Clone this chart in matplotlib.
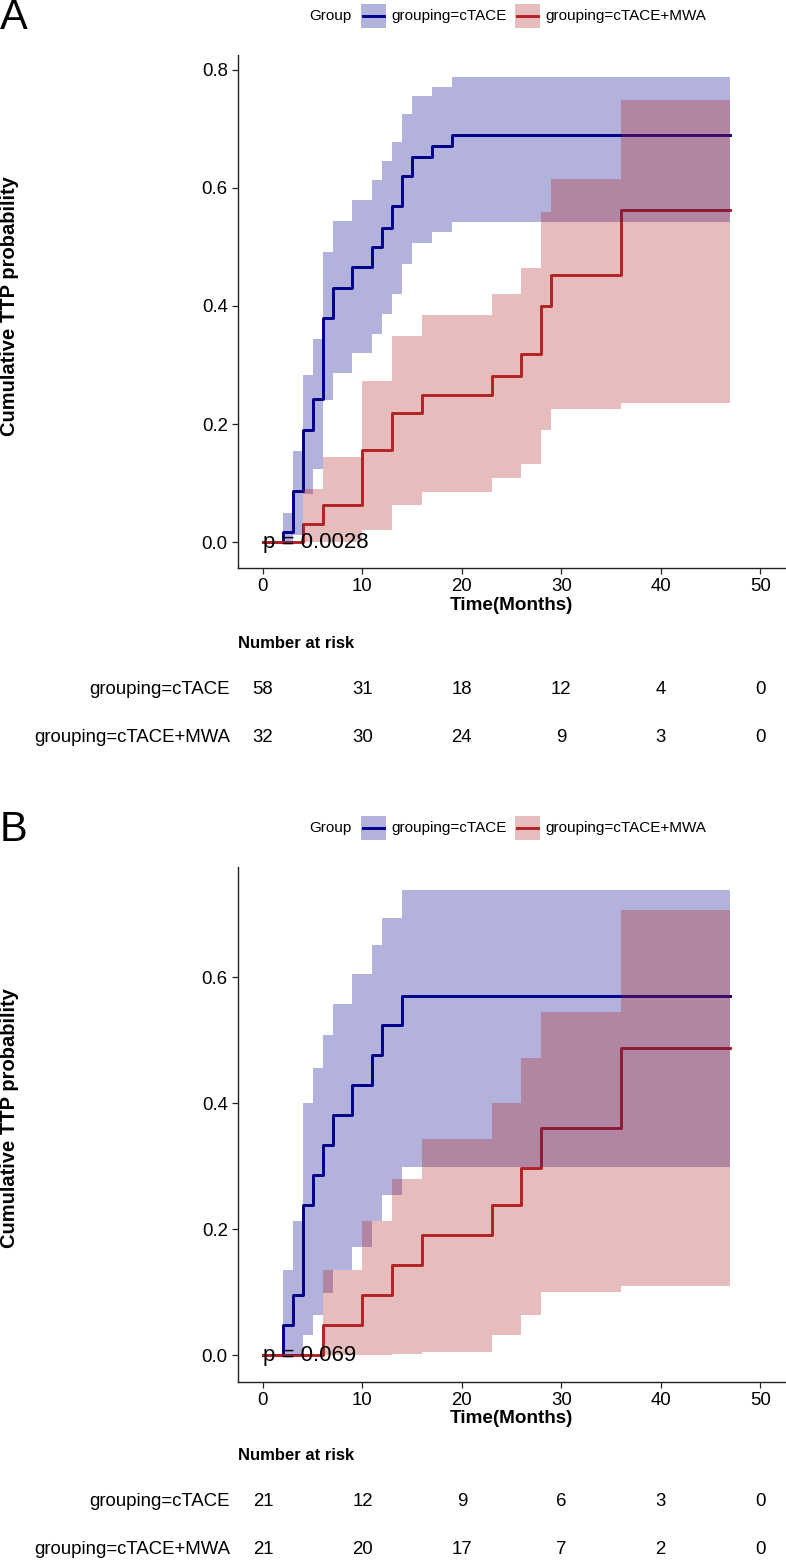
import numpy as np
import matplotlib
matplotlib.use("Agg")
import matplotlib.pyplot as plt
import matplotlib.transforms as mtransforms
from matplotlib.patches import Rectangle
from matplotlib.lines import Line2D

plt.rcParams['font.family'] = ['Liberation Sans', 'DejaVu Sans']

# ---- Panel A data ----
a_ctace_t = [0, 2, 3, 4, 5, 6, 7, 9, 11, 12, 13, 14, 15, 17, 19, 47]
a_ctace_est = [0, 0.017, 0.086, 0.19, 0.242, 0.379, 0.43, 0.466, 0.50, 0.533, 0.569, 0.62, 0.653, 0.671, 0.689, 0.689]
a_ctace_hi = [0, 0.05, 0.154, 0.283, 0.344, 0.492, 0.544, 0.58, 0.613, 0.646, 0.678, 0.725, 0.756, 0.772, 0.788, 0.788]
a_ctace_lo = [0, 0.0, 0.012, 0.081, 0.123, 0.24, 0.287, 0.32, 0.3525, 0.386, 0.42, 0.472, 0.507, 0.526, 0.543, 0.543]

a_mwa_t = [0, 4, 6, 10, 13, 16, 23, 26, 28, 29, 36, 47]
a_mwa_est = [0, 0.031, 0.0625, 0.156, 0.219, 0.25, 0.281, 0.319, 0.40, 0.4525, 0.5627, 0.5627]
a_mwa_hi = [0, 0.089, 0.1435, 0.273, 0.349, 0.385, 0.42, 0.464, 0.56, 0.615, 0.749, 0.749]
a_mwa_lo = [0, 0, 0, 0.02, 0.063, 0.085, 0.108, 0.133, 0.19, 0.225, 0.236, 0.236]

a_risk_ctace = [58, 31, 18, 12, 4, 0]
a_risk_mwa = [32, 30, 24, 9, 3, 0]
a_pval = "p = 0.0028"

# ---- Panel B data ----
b_ctace_t = [0, 2, 3, 4, 5, 6, 7, 9, 11, 12, 14, 47]
b_ctace_est = [0, 0.0476, 0.095, 0.238, 0.286, 0.333, 0.381, 0.429, 0.476, 0.524, 0.571, 0.571]
b_ctace_hi = [0, 0.135, 0.213, 0.40, 0.456, 0.508, 0.558, 0.605, 0.651, 0.695, 0.739, 0.739]
b_ctace_lo = [0, 0, 0, 0.032, 0.0635, 0.099, 0.135, 0.172, 0.213, 0.254, 0.298, 0.298]

b_mwa_t = [0, 6, 10, 13, 16, 23, 26, 28, 36, 47]
b_mwa_est = [0, 0.0476, 0.095, 0.143, 0.19, 0.238, 0.2966, 0.36, 0.488, 0.488]
b_mwa_hi = [0, 0.135, 0.213, 0.279, 0.3425, 0.40, 0.472, 0.545, 0.707, 0.707]
b_mwa_lo = [0, 0, 0, 0.002, 0.005, 0.032, 0.0635, 0.10, 0.109, 0.109]

b_risk_ctace = [21, 12, 9, 6, 3, 0]
b_risk_mwa = [21, 20, 17, 7, 2, 0]
b_pval = "p = 0.069"

risk_times = [0, 10, 20, 30, 40, 50]
groups = ["grouping=cTACE", "grouping=cTACE+MWA"]
colors = ["#00008B", "#B22222"]

W, H = 786, 1568
fig = plt.figure(figsize=(W / 100, H / 100), dpi=100)


def fx(px):
    return px / W


def fy(py):
    return 1 - py / H


def panel(top, bottom, ylim, yticks, curves, risks, pval, letter, dy):
    ax = fig.add_axes([fx(237.5), fy(bottom), fx(785) - fx(237.5), (bottom - top) / H])
    # lines first, ribbons drawn on top (as in the original)
    for (t, est, lo, hi), c in zip(curves, colors):
        ax.step(t, est, where='post', color=c, lw=2.1, zorder=2)
    for (t, est, lo, hi), c in zip(curves, colors):
        ax.fill_between(t, lo, hi, step='post', color=c, alpha=0.3, lw=0, zorder=3)
    ax.text(0, 0, pval, fontsize=16, va='center', ha='left', zorder=5)

    ax.set_xlim(-2.56, 52.5)
    ax.set_ylim(*ylim)
    ax.set_xticks(risk_times)
    ax.set_yticks(yticks)
    ax.set_yticklabels([f"{v:.1f}" for v in yticks])
    for s in ['top', 'right']:
        ax.spines[s].set_visible(False)
    for s in ['left', 'bottom']:
        ax.spines[s].set_linewidth(1.0)
        ax.spines[s].set_color('#222222')
    ax.tick_params(direction='out', length=4, width=0.9, colors='#222222',
                   labelsize=13.4, labelcolor='black', pad=3)
    ax.set_xlabel("Time(Months)", fontsize=13.6, fontweight='bold', labelpad=1)
    fig.text(fx(10), fy((top + bottom) / 2 - 6), "Cumulative TTP probability",
             rotation=90, ha='center', va='center', fontsize=14.5, fontweight='bold')

    # panel letter
    fig.text(fx(0), fy(18 + dy), letter, fontsize=30, ha='left', va='center')

    # legend
    ly = 16 + dy
    fig.text(fx(309), fy(ly), "Group", fontsize=11, ha='left', va='center')
    kx = [361, 515]
    for k, (lab, c) in enumerate(zip(groups, colors)):
        fig.add_artist(Rectangle((fx(kx[k]), fy(ly + 12)), 25 / W, 24 / H,
                                 transform=fig.transFigure, color=c, alpha=0.3, lw=0))
        fig.add_artist(Line2D([fx(kx[k] + 2), fx(kx[k] + 23)], [fy(ly), fy(ly)],
                              transform=fig.transFigure, color=c, lw=2.1))
        fig.text(fx(kx[k] + 30), fy(ly), lab, fontsize=11, ha='left', va='center')

    # number at risk table
    trans = mtransforms.blended_transform_factory(ax.transData, fig.transFigure)
    fig.text(fx(238), fy(644 + dy), "Number at risk", fontsize=12, fontweight='bold',
             ha='left', va='center')
    rows_y = [690 + dy, 738 + dy]
    for lab, vals, ry in zip(groups, risks, rows_y):
        fig.text(fx(230), fy(ry), lab, fontsize=13.4, ha='right', va='center')
        for t, v in zip(risk_times, vals):
            fig.text(t, fy(ry), str(v), fontsize=13.4, ha='center', va='center',
                     transform=trans)
    return ax


panel(55, 568.5, (-0.0449, 0.8254), [0, 0.2, 0.4, 0.6, 0.8],
      [(a_ctace_t, a_ctace_est, a_ctace_lo, a_ctace_hi),
       (a_mwa_t, a_mwa_est, a_mwa_lo, a_mwa_hi)],
      [a_risk_ctace, a_risk_mwa], a_pval, "A", 0)

panel(866.7, 1382.2, (-0.0432, 0.7757), [0, 0.2, 0.4, 0.6],
      [(b_ctace_t, b_ctace_est, b_ctace_lo, b_ctace_hi),
       (b_mwa_t, b_mwa_est, b_mwa_lo, b_mwa_hi)],
      [b_risk_ctace, b_risk_mwa], b_pval, "B", 812)

fig.savefig("out.png", dpi=100)
